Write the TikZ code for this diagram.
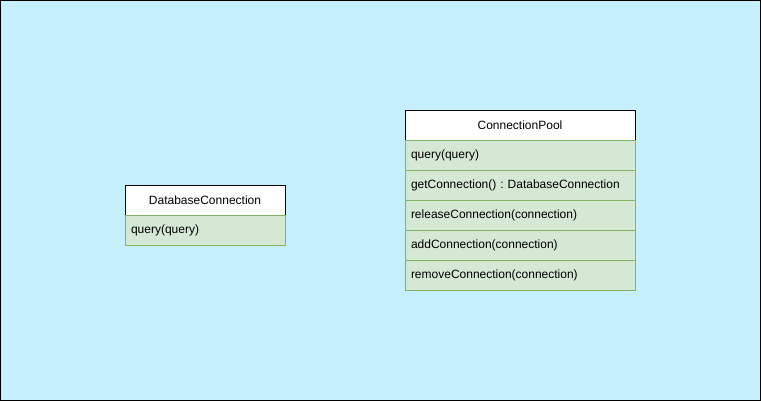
\documentclass[tikz,border=0pt]{standalone}
\usepackage{fontspec}
\setmainfont{Liberation Sans}
\usetikzlibrary{positioning}
\definecolor{bgcyan}{RGB}{199,240,255}
\definecolor{rowfill}{HTML}{D5E8D4}
\definecolor{rowline}{HTML}{82B366}
\frenchspacing
\begin{document}
\begin{tikzpicture}[x=1pt,y=-1pt,
  classhead/.style={draw=black,fill=white,line width=0.8pt,
    minimum width=#1,minimum height=30pt,inner sep=0pt,outer sep=0pt,
    anchor=north west,font=\fontsize{12}{14}\selectfont},
  classrow/.style={draw=rowline,fill=rowfill,line width=0.8pt,
    text width=#1-12pt,inner xsep=6pt,inner ysep=0pt,outer sep=0pt,
    minimum height=30pt,align=left,
    font=\fontsize{12}{14}\selectfont},
  node distance=0pt]
 \useasboundingbox (0,0) rectangle (761,401);
 \draw[fill=bgcyan,line width=1pt] (0.5,0.5) rectangle (760.5,400.5);
 % DatabaseConnection
 \node[classhead=160pt] (db) at (125,185) {DatabaseConnection};
 \node[classrow=160pt,below=of db] (db-q) {query(query)};
 % ConnectionPool
 \node[classhead=230pt] (pool) at (405,110) {ConnectionPool};
 \node[classrow=230pt,below=of pool] (pool-q) {query(query)};
 \node[classrow=230pt,below=of pool-q] (pool-get) {getConnection() : DatabaseConnection};
 \node[classrow=230pt,below=of pool-get] (pool-rel) {releaseConnection(connection)};
 \node[classrow=230pt,below=of pool-rel] (pool-add) {addConnection(connection)};
 \node[classrow=230pt,below=of pool-add] (pool-rem) {removeConnection(connection)};
\end{tikzpicture}
\end{document}
